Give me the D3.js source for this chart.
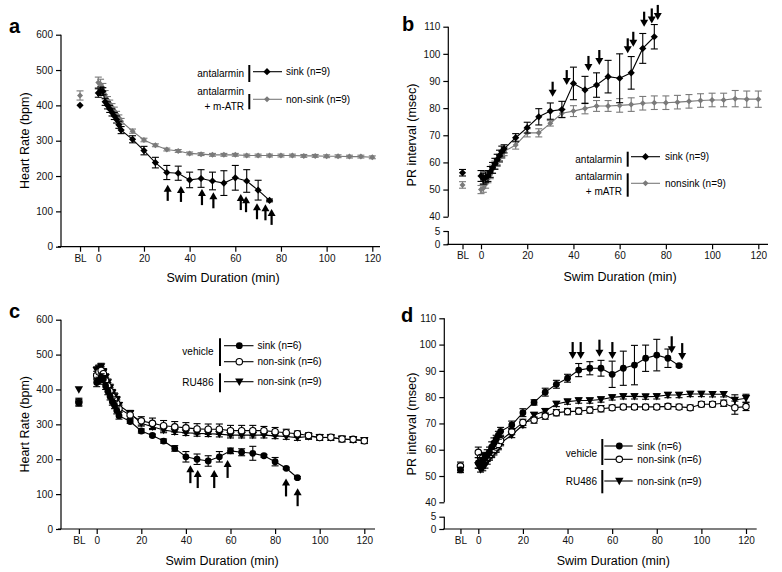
<html>
<head>
<meta charset="utf-8"/>
<script src="https://d3js.org/d3.v7.min.js"></script>
<style>
body{margin:0;background:#fff;}
text{font-family:"Liberation Sans",Arial,sans-serif;}
</style>
</head>
<body>
<script>
// time points (min) shared by all series
var minutes=[0,1,2,3,4,5,6,7,8,9,10,15,20,25,30,35,40,45,50,55,60,65,70,75,80,85,90,95,100,105,110,115,120];
var blPos=-8;   // where the BL column sits on the minute axis
var xTicks=[blPos,0,20,40,60,80,100,120];

// panel a - heart rate, antalarmin
var aSinkBL=[400,0], aNonBL=[428,13];
var aSink=[435,440,440,410,400,390,380,370,360,345,330,304,272,238,210,208,189,193,186,180,195,186,160,131];
var aSinkErr=[12,12,10,10,10,10,10,10,10,10,10,10,12,15,20,20,22,25,25,35,35,32,28,4];
var aNon=[465,460,450,430,415,405,395,385,375,365,355,327,302,287,275,271,264,262,260,260,260,258,258,258,258,258,257,257,256,256,255,255,253];
var aNonErr=[15,14,12,12,10,10,10,10,8,8,8,6,5,4,4,4,4,4,4,4,4,4,4,4,4,4,4,4,4,4,4,4,4];
var aArrT=[30.4,36.2,45.4,50.4,62.4,64.7,69.5,73.2,75.9];
var aArrV=[175,172,163,154,149,143,123,120,107];

// panel b - PR interval, antalarmin
var bSinkBL=[56.2,1.2], bNonBL=[51.7,1.2];
var bSink=[55,54,54.5,55,56.5,58,59.5,61,62.5,64,65,69.1,72.8,76.8,78.9,79.5,89.1,86.7,88.5,91.6,91,93,102,106.3];
var bSinkErr=[2,2,2,2,2,2,2,2,2,2,1.5,1.5,2,3,3,3,6,5,4.5,6,9,6,5.5,4.5];
var bNon=[50,50.5,52,54,55.5,57.5,59,60,61.5,63,64,66.4,70.9,70.9,74.4,78.1,78.9,79.9,80.8,80.8,81,81.3,81.8,82,82,82.2,82.5,82.8,83,83,83.5,83.3,83.3];
var bNonErr=[1.5,1.5,1.5,1.5,1.5,1.5,1.5,1.5,1.5,1.5,1.5,1.5,1.5,1.5,1,1.5,2,2,2,2,2.5,2.5,2.5,2.5,2.5,2.5,2.5,2.5,2.5,2.5,3,3,3];
var bArrT=[31,37.1,46.5,51.2,63.5,65.9,70.6,73.9,76.5];
var bArrV=[84.2,88.5,93.7,95.9,100.2,102.6,110,111.2,112.5];

// panel c - heart rate, vehicle / RU486
var cSinkBL=[362,10], cNonBL=[365,10], cRuBL=[400,0];
var cSink=[420,425,435,430,410,395,380,365,355,340,325,308,281,268,252,231,207,200,195,207,224,220,217,210,193,174,147];
var cSinkErr=[12,10,10,10,10,10,10,10,10,10,10,5,6,4,6,8,15,15,15,15,8,10,20,4,12,3,3];
var cNon=[440,450,455,445,425,410,395,380,370,360,345,327,310,303,296,293,290,287,286,286,282,282,282,282,279,276,273,268,262,263,258,257,253];
var cNonErr=[12,12,10,10,10,10,10,10,10,10,10,10,12,15,15,15,15,15,15,15,15,15,15,12,12,10,8,8,8,8,8,8,8];
var cRu=[455,460,465,450,435,420,405,390,380,370,355,332,303,293,284,279,276,274,273,272,269,269,269,269,267,265,262,265,263,262,258,256,254];
var cRuErr=[10,10,10,10,10,10,10,10,10,10,8,8,8,8,8,8,8,8,8,8,8,8,8,8,8,8,8,8,8,8,8,8,8];
var cArrT=[42,45.3,52.7,58.7,84.9,90.1];
var cArrV=[183,169,169,198,145,117];

// panel d - PR interval, vehicle / RU486
var dSinkBL=[52.3,1], dNonBL=[53.8,1.5];
var dSink=[55,55,56,57,58,59,61,62.5,64,65.5,67,69.4,74.1,78,81.9,84.9,87.2,90.3,91,91,88.7,91,92.2,94.8,96,94.8,92];
var dSinkErr=[2,2,2,2,2,2,2,2,1.5,1.5,1.5,1.5,1.5,1,1.5,1.5,1.5,2.5,2.5,3,5,6.5,7.5,5,6,3.5,0.5];
var dNon=[59,57,57,56.5,57,58,59,60,61,62,63.5,66.9,70.4,71.3,72.8,74.1,74.5,74.7,75.1,75.6,76,76.3,76.3,76.3,76.3,76.5,76.3,76,77.3,77.3,77.7,76,76.4];
var dNonErr=[2,1.5,1.5,1.5,1.5,1.5,1.5,1.5,1.5,1.5,1.5,1.2,1.2,1.2,1.2,1.2,1.2,1.2,1.2,1.2,1,1,1,1,1,1,1,1,1,1,1.2,2.5,1.5];
var dRu=[54,52.5,53,54,55.5,57,58,59,60,61,62.5,65.6,69.4,73.2,74.7,77.4,78.3,78.7,78.7,79.1,79.9,80.3,80.3,80.2,80.3,80.8,80.8,81.2,81.2,81.1,81.1,78.9,79.6];
var dRuErr=[1,1,1,1,1,1,1,1,1,1,1,1,1,1,1,1,1,1,1,1,1,1,1,1,1,1,1,1,1,1,1,2,1.5];
var dArrT=[42.3,45.9,54.3,60.1,86.7,91.4];
var dArrV=[94.5,94.5,95.4,94.5,96.7,94.1];

var grey="#7a7a7a";
var svg=d3.select("body").append("svg").attr("width",782).attr("height",572);

function marker(g,type,color,cx,cy){
  var m;
  if(type=="dia"){
    m=g.append("path").attr("d","M0,-3.6L3.6,0L0,3.6L-3.6,0Z").attr("fill",color);
  }else if(type=="dias"){
    m=g.append("path").attr("d","M0,-3L3,0L0,3L-3,0Z").attr("fill",color);
  }else if(type=="circ"){
    m=g.append("circle").attr("r",3.4).attr("fill","#000");
  }else if(type=="open"){
    m=g.append("circle").attr("r",3.2).attr("fill","#fff").attr("stroke","#000").attr("stroke-width",1.1);
  }else{
    m=g.append("path").attr("d","M-4.2,-3.2L4.2,-3.2L0,4.2Z").attr("fill","#000");
  }
  m.attr("transform","translate("+cx+","+cy+")");
}

function panel(p){
  var g=svg.append("g");
  var x=d3.scaleLinear().domain([0,120]).range(p.xr);
  var y=d3.scaleLinear().domain(p.yd).range(p.yr);
  var y0=p.yr[0];

  // x axis
  var gx=g.append("g").attr("transform","translate(0,"+y0+")")
    .call(d3.axisBottom(x).tickValues(xTicks).tickSize(5).tickPadding(3)
      .tickFormat(function(d){return d==blPos?"BL":d;}));
  gx.select(".domain").remove();
  gx.append("line").attr("x1",p.xl[0]).attr("x2",p.xl[1]).attr("stroke","#000").attr("stroke-width",1.2);

  // y axis
  var gy=g.append("g").attr("transform","translate("+p.ax+",0)")
    .call(d3.axisLeft(y).tickValues(p.yt).tickSize(5).tickPadding(3));
  gy.select(".domain").remove();
  if(p.brk){
    gy.append("line").attr("y1",y(110)).attr("y2",y(40)).attr("stroke","#000").attr("stroke-width",1.2);
    gy.append("line").attr("y1",y(5)).attr("y2",y(0)).attr("stroke","#000").attr("stroke-width",1.2);
  }else{
    gy.append("line").attr("y1",y(p.yd[1])).attr("y2",y(0)).attr("stroke","#000").attr("stroke-width",1.2);
  }
  g.selectAll(".tick line").attr("stroke-width",1.2);
  g.selectAll(".tick text").attr("font-size",10).attr("font-family","Liberation Sans, Arial, sans-serif").attr("fill","#111");

  g.append("text").attr("transform","translate("+p.yt0[0]+","+p.yt0[1]+") rotate(-90)")
    .attr("text-anchor","middle").attr("dy","0.35em").attr("font-size",12.5).text(p.ytitle);
  g.append("text").attr("x",p.xt0[0]).attr("y",p.xt0[1]).attr("text-anchor","middle")
    .attr("dy","0.35em").attr("font-size",12.5).text("Swim Duration (min)");
  g.append("text").attr("x",p.letter[1]).attr("y",p.letter[2]).attr("font-size",20)
    .attr("font-weight","bold").text(p.letter[0]);

  // series
  var line=d3.line().x(function(d){return x(d[0]);}).y(function(d){return y(d[1]);});
  p.series.forEach(function(s){
    var pts=s.v.map(function(v,i){return [minutes[i],v,s.e[i]];});
    var all=s.bl?pts.concat([[blPos,s.bl[0],s.bl[1]]]):pts;
    var eb=g.append("g").attr("stroke",s.color).attr("stroke-width",1.1);
    all.forEach(function(d){
      if(!d[2]) return;
      var xx=x(d[0]);
      eb.append("line").attr("x1",xx).attr("x2",xx).attr("y1",y(d[1]-d[2])).attr("y2",y(d[1]+d[2]));
      eb.append("line").attr("x1",xx-3.5).attr("x2",xx+3.5).attr("y1",y(d[1]+d[2])).attr("y2",y(d[1]+d[2]));
      eb.append("line").attr("x1",xx-3.5).attr("x2",xx+3.5).attr("y1",y(d[1]-d[2])).attr("y2",y(d[1]-d[2]));
    });
    g.append("path").datum(pts).attr("d",line).attr("fill","none").attr("stroke",s.color).attr("stroke-width",1.1);
    s.pg=g.append("g");
  });
  p.series.forEach(function(s){
    s.v.forEach(function(v,i){marker(s.pg,s.m,s.color,x(minutes[i]),y(v));});
    if(s.bl) marker(s.pg,s.m,s.color,x(blPos),y(s.bl[0]));
  });

  // arrows: tip at the value, shaft away from it
  var ag=g.append("g");
  p.arrT.forEach(function(t,i){
    var xx=x(t), tip=y(p.arrV[i]), dir=p.arrDir, L=p.arrLen;
    ag.append("line").attr("x1",xx).attr("x2",xx).attr("y1",tip+dir*5).attr("y2",tip+dir*L)
      .attr("stroke","#000").attr("stroke-width",2.2);
    ag.append("path").attr("d","M"+xx+","+tip+"L"+(xx-4)+","+(tip+dir*7)+"L"+(xx+4)+","+(tip+dir*7)+"Z").attr("fill","#000");
  });

  // legend
  var L=p.leg, lg=g.append("g");
  L.groups.forEach(function(gr){
    lg.append("line").attr("x1",L.bar).attr("x2",L.bar).attr("y1",gr.bar[0]).attr("y2",gr.bar[1])
      .attr("stroke","#000").attr("stroke-width",2);
    gr.labels.forEach(function(lb){
      lg.append("text").attr("x",L.lab).attr("y",lb[1]).attr("dy","0.35em").attr("text-anchor","end")
        .attr("font-size",10).text(lb[0]);
    });
    gr.rows.forEach(function(r){
      lg.append("line").attr("x1",L.l0).attr("x2",L.l1).attr("y1",r.y).attr("y2",r.y)
        .attr("stroke",r.s.color).attr("stroke-width",1.1);
      marker(lg,r.s.m,r.s.color,L.mk,r.y);
      lg.append("text").attr("x",L.tx).attr("y",r.y).attr("dy","0.35em").attr("font-size",10).text(r.text);
    });
  });
}

var sA={v:aSink,e:aSinkErr,bl:aSinkBL,m:"dia",color:"#000"};
var nA={v:aNon,e:aNonErr,bl:aNonBL,m:"dias",color:grey};
panel({xr:[98.3,372.3],xl:[58,380],yd:[0,600],yr:[246.7,34.7],yt:[0,100,200,300,400,500,600],ax:61,
  ytitle:"Heart Rate (bpm)",yt0:[25,140.7],xt0:[223,278],letter:["a",9,33],
  series:[nA,sA],arrT:aArrT,arrV:aArrV,arrDir:1,arrLen:16,
  leg:{bar:249.3,lab:244,l0:253,l1:282,mk:267,tx:286,groups:[
    {bar:[65,82],labels:[["antalarmin",73]],rows:[{y:71.7,s:sA,text:"sink (n=9)"}]},
    {bar:[94,109.3],labels:[["antalarmin",91.7],["+ m-ATR",106.7]],rows:[{y:99.3,s:nA,text:"non-sink (n=9)"}]}]}});

var sB={v:bSink,e:bSinkErr,bl:bSinkBL,m:"dia",color:"#000"};
var nB={v:bNon,e:bNonErr,bl:bNonBL,m:"dias",color:grey};
panel({xr:[481,758.3],xl:[446.7,768],yd:[0,5,40,110],yr:[244.3,231,216.7,26.7],yt:[0,5,40,50,60,70,80,90,100,110],ax:448.3,brk:true,
  ytitle:"PR interval (msec)",yt0:[411.7,135],xt0:[620,277],letter:["b",402,31],
  series:[nB,sB],arrT:bArrT,arrV:bArrV,arrDir:-1,arrLen:15,
  leg:{bar:627.7,lab:622,l0:631,l1:660,mk:645.5,tx:665,groups:[
    {bar:[151.7,166.7],labels:[["antalarmin",159]],rows:[{y:156.7,s:sB,text:"sink (n=9)"}]},
    {bar:[173.3,196.7],labels:[["antalarmin",176.7],["+ mATR",191.7]],rows:[{y:183.3,s:nB,text:"nonsink (n=9)"}]}]}});

var sC={v:cSink,e:cSinkErr,bl:cSinkBL,m:"circ",color:"#000"};
var nC={v:cNon,e:cNonErr,bl:cNonBL,m:"open",color:"#000"};
var rC={v:cRu,e:cRuErr,bl:cRuBL,m:"tri",color:"#000"};
panel({xr:[96.7,364.3],xl:[58,375],yd:[0,600],yr:[529,319.7],yt:[0,100,200,300,400,500,600],ax:61,
  ytitle:"Heart Rate (bpm)",yt0:[25,424.3],xt0:[222,561],letter:["c",9,318],
  series:[rC,nC,sC],arrT:cArrT,arrV:cArrV,arrDir:1,arrLen:18,
  leg:{bar:220,lab:213.5,l0:224,l1:253.5,mk:239.3,tx:257.5,groups:[
    {bar:[338.3,366],labels:[["vehicle",351.7]],rows:[{y:345.7,s:sC,text:"sink (n=6)"},{y:361.7,s:nC,text:"non-sink (n=6)"}]},
    {bar:[373.3,392.3],labels:[["RU486",382.3]],rows:[{y:381.7,s:rC,text:"non-sink (n=9)"}]}]}});

var sD={v:dSink,e:dSinkErr,bl:dSinkBL,m:"circ",color:"#000"};
var nD={v:dNon,e:dNonErr,bl:dNonBL,m:"open",color:"#000"};
var rD={v:dRu,e:dRuErr,bl:null,m:"tri",color:"#000"};
panel({xr:[478.3,746],xl:[443,756.7],yd:[0,5,40,110],yr:[529,516.7,502.3,318.3],yt:[0,5,40,50,60,70,80,90,100,110],ax:444.3,brk:true,
  ytitle:"PR interval (msec)",yt0:[411.7,424],xt0:[613.3,561],letter:["d",401,322],
  series:[rD,nD,sD],arrT:dArrT,arrV:dArrV,arrDir:-1,arrLen:17,
  leg:{bar:602.3,lab:597,l0:604.3,l1:632.7,mk:619.3,tx:637.3,groups:[
    {bar:[439,465],labels:[["vehicle",453.3]],rows:[{y:446,s:sD,text:"sink (n=6)"},{y:459.3,s:nD,text:"non-sink (n=6)"}]},
    {bar:[470,493.3],labels:[["RU486",481]],rows:[{y:481,s:rD,text:"non-sink (n=9)"}]}]}});
</script>
</body>
</html>
